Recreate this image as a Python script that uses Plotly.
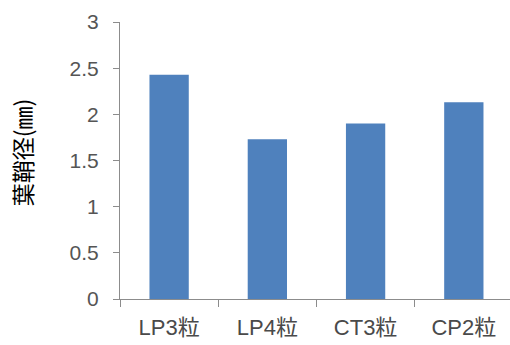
import plotly.graph_objects as go

# Leaf sheath diameter by treatment
categories = ["LP3粒", "LP4粒", "CT3粒", "CP2粒"]
values = [2.43, 1.73, 1.90, 2.13]
y_ticks = [0, 0.5, 1, 1.5, 2, 2.5, 3]
y_tick_text = ["0", "0.5", "1", "1.5", "2", "2.5", "3"]
y_title = "葉鞘径(㎜)"

font_family = "Liberation Sans, Noto Sans CJK JP, sans-serif"

fig = go.Figure(
    go.Bar(
        x=categories,
        y=values,
        marker=dict(color="#4F81BD", line=dict(width=0)),
        width=0.4,
    )
)

fig.update_layout(
    width=510,
    height=345,
    margin=dict(l=120, r=0, t=22, b=46),
    paper_bgcolor="white",
    plot_bgcolor="white",
    showlegend=False,
    font=dict(family=font_family, size=21, color="#555555"),
)

fig.update_xaxes(
    range=[-0.5, 3.47],
    showline=True,
    linecolor="#8C8C8C",
    linewidth=1,
    ticks="outside",
    tickson="boundaries",
    ticklen=7,
    tickcolor="#8C8C8C",
    showgrid=False,
    ticklabelstandoff=9,
    tickfont=dict(size=22, color="#4a4a4a"),
)

fig.update_yaxes(
    range=[0, 3],
    tickvals=y_ticks,
    ticktext=y_tick_text,
    showline=True,
    linecolor="#8C8C8C",
    linewidth=1,
    ticks="outside",
    ticklen=6,
    tickcolor="#8C8C8C",
    showgrid=False,
    zeroline=False,
    ticklabelstandoff=10,
    tickfont=dict(size=21, color="#555555"),
)

# Rotated axis title placed left of the tick labels
fig.add_annotation(
    text=y_title,
    textangle=-90,
    xref="paper",
    yref="paper",
    x=-0.251,
    y=0.53,
    xanchor="center",
    yanchor="middle",
    showarrow=False,
    font=dict(size=23, color="#000000", family="Noto Sans CJK JP"),
)

fig.write_html("out.html")
